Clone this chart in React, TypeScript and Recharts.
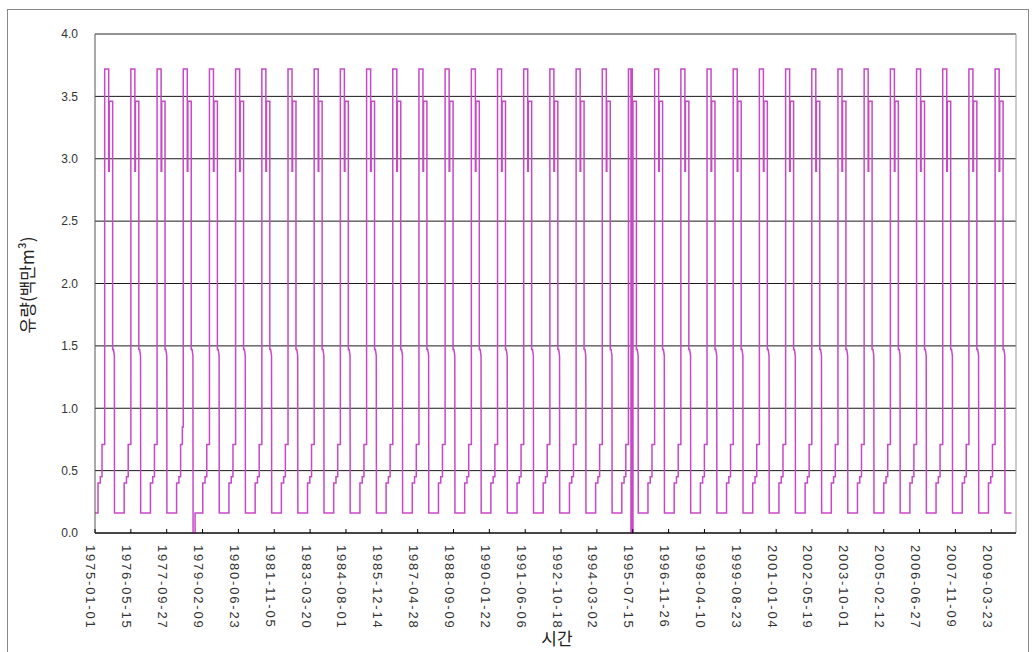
import { LineChart, Line, XAxis, YAxis, CartesianGrid, ReferenceLine } from 'recharts';

const DAY = 86400000;
const PLOT_BOTTOM = 533;

// years in the record
const years = [
  1975, 1976, 1977, 1978, 1979, 1980, 1981, 1982, 1983, 1984, 1985, 1986,
  1987, 1988, 1989, 1990, 1991, 1992, 1993, 1994, 1995, 1996, 1997, 1998,
  1999, 2000, 2001, 2002, 2003, 2004, 2005, 2006, 2007, 2008, 2009,
];

// one year of flow as vertices (day of year, 백만m³)
const yearDays = [0, 42, 42, 74, 74, 98, 98, 135, 135, 191, 191, 199, 199, 246, 246, 258, 270, 272];
const yearFlow = [0.16, 0.16, 0.4, 0.4, 0.45, 0.45, 0.71, 0.71, 3.72, 3.72, 2.9, 2.9, 3.46, 3.46, 1.47, 1.47, 1.42, 0.16];

// 1978: slower rise and a drop to zero after the season
const days1978 = [0, 42, 42, 74, 74, 98, 98, 122, 122, 135, 135, 191, 191, 199, 199, 246, 246, 258, 270, 272, 300, 300];
const flow1978 = [0.16, 0.16, 0.4, 0.4, 0.45, 0.45, 0.71, 0.71, 0.85, 0.85, 3.72, 3.72, 2.9, 2.9, 3.46, 3.46, 1.47, 1.47, 1.42, 0, 0, 0.16];

// 1995: the summer dip goes all the way to zero
const days1995 = [0, 42, 42, 74, 74, 98, 98, 135, 135, 170, 170, 178, 178, 188, 188, 198, 198, 246, 246, 258, 270, 272];
const flow1995 = [0.16, 0.16, 0.4, 0.4, 0.45, 0.45, 0.71, 0.71, 3.72, 3.72, 0, 0, 3.72, 3.72, 0, 0, 3.46, 3.46, 1.47, 1.47, 1.42, 0.16];

const tickLabels = [
  '1975-01-01', '1976-05-15', '1977-09-27', '1979-02-09', '1980-06-23', '1981-11-05',
  '1983-03-20', '1984-08-01', '1985-12-14', '1987-04-28', '1988-09-09', '1990-01-22',
  '1991-06-06', '1992-10-18', '1994-03-02', '1995-07-15', '1996-11-26', '1998-04-10',
  '1999-08-23', '2001-01-04', '2002-05-19', '2003-10-01', '2005-02-12', '2006-06-27',
  '2007-11-09', '2009-03-23',
];

const flowTicks = [0, 0.5, 1, 1.5, 2, 2.5, 3, 3.5, 4];

const profiles: Record<number, [number[], number[]]> = {
  1978: [days1978, flow1978],
  1995: [days1995, flow1995],
};

const data = years.flatMap((yr) => {
  const [d, f] = profiles[yr] ?? [yearDays, yearFlow];
  return d.map((day, i) => ({ t: Date.UTC(yr, 0, 1) + day * DAY, flow: f[i] }));
});
data.push({ t: Date.UTC(2009, 11, 31), flow: 0.16 });

const T0 = Date.UTC(1975, 0, 1);
const TEND = T0 + 12845 * DAY;
const dateTicks = tickLabels.map((s) => Date.parse(s + 'T00:00:00Z'));

const numFont = '"Liberation Sans", Arial, sans-serif';
const korFont = '"Noto Sans CJK KR", sans-serif';

function DateTick({ x, payload }: any) {
  const label = new Date(payload.value).toISOString().slice(0, 10);
  return (
    <g>
      <line x1={x} x2={x} y1={PLOT_BOTTOM} y2={PLOT_BOTTOM - 4} stroke="#000" />
      <text
        x={x - 4}
        y={545}
        dy="0.35em"
        transform={`rotate(90 ${x - 4} 545)`}
        textAnchor="start"
        fontSize={13}
        letterSpacing={1.8}
        fontFamily={numFont}
        fill="#333"
      >
        {label}
      </text>
    </g>
  );
}

export default function App() {
  return (
    <div style={{ position: 'absolute', left: 0, top: 0, width: 1033, height: 652, background: '#fff' }}>
      <LineChart
        width={1033}
        height={652}
        data={data}
        margin={{ top: 34, right: 17, bottom: 0, left: 0 }}
      >
        <CartesianGrid horizontal vertical={false} stroke="#1a1a1a" />
        <XAxis
          dataKey="t"
          type="number"
          domain={[T0, TEND]}
          ticks={dateTicks}
          interval={0}
          height={119}
          axisLine={{ stroke: '#000' }}
          tickLine={false}
          tick={<DateTick />}
        />
        <YAxis
          type="number"
          domain={[0, 4]}
          ticks={flowTicks}
          width={95}
          tickLine={false}
          tickSize={5}
          tickMargin={12}
          axisLine={{ stroke: '#555' }}
          tickFormatter={(v: number) => v.toFixed(1)}
          tick={{ fontSize: 12, fill: '#333', fontFamily: numFont }}
        />
        <ReferenceLine y={4} stroke="#999" />
        <ReferenceLine x={TEND} stroke="#999" />
        <Line
          type="linear"
          dataKey="flow"
          stroke="#C848C8"
          strokeWidth={1.5}
          dot={false}
          isAnimationActive={false}
        />
      </LineChart>
      <svg
        width={1033}
        height={652}
        style={{ position: 'absolute', left: 0, top: 0, pointerEvents: 'none' }}
      >
        <rect x={7.5} y={9.5} width={1021} height={660} fill="none" stroke="#888" />
        <text
          x={28}
          y={285}
          dy="0.35em"
          transform="rotate(-90 28 285)"
          textAnchor="middle"
          fontSize={17}
          fontFamily={korFont}
          fill="#222"
        >
          유량(백만m³)
        </text>
        <text x={557} y={645} textAnchor="middle" fontSize={17} fontFamily={korFont} fill="#222">
          시간
        </text>
      </svg>
    </div>
  );
}
